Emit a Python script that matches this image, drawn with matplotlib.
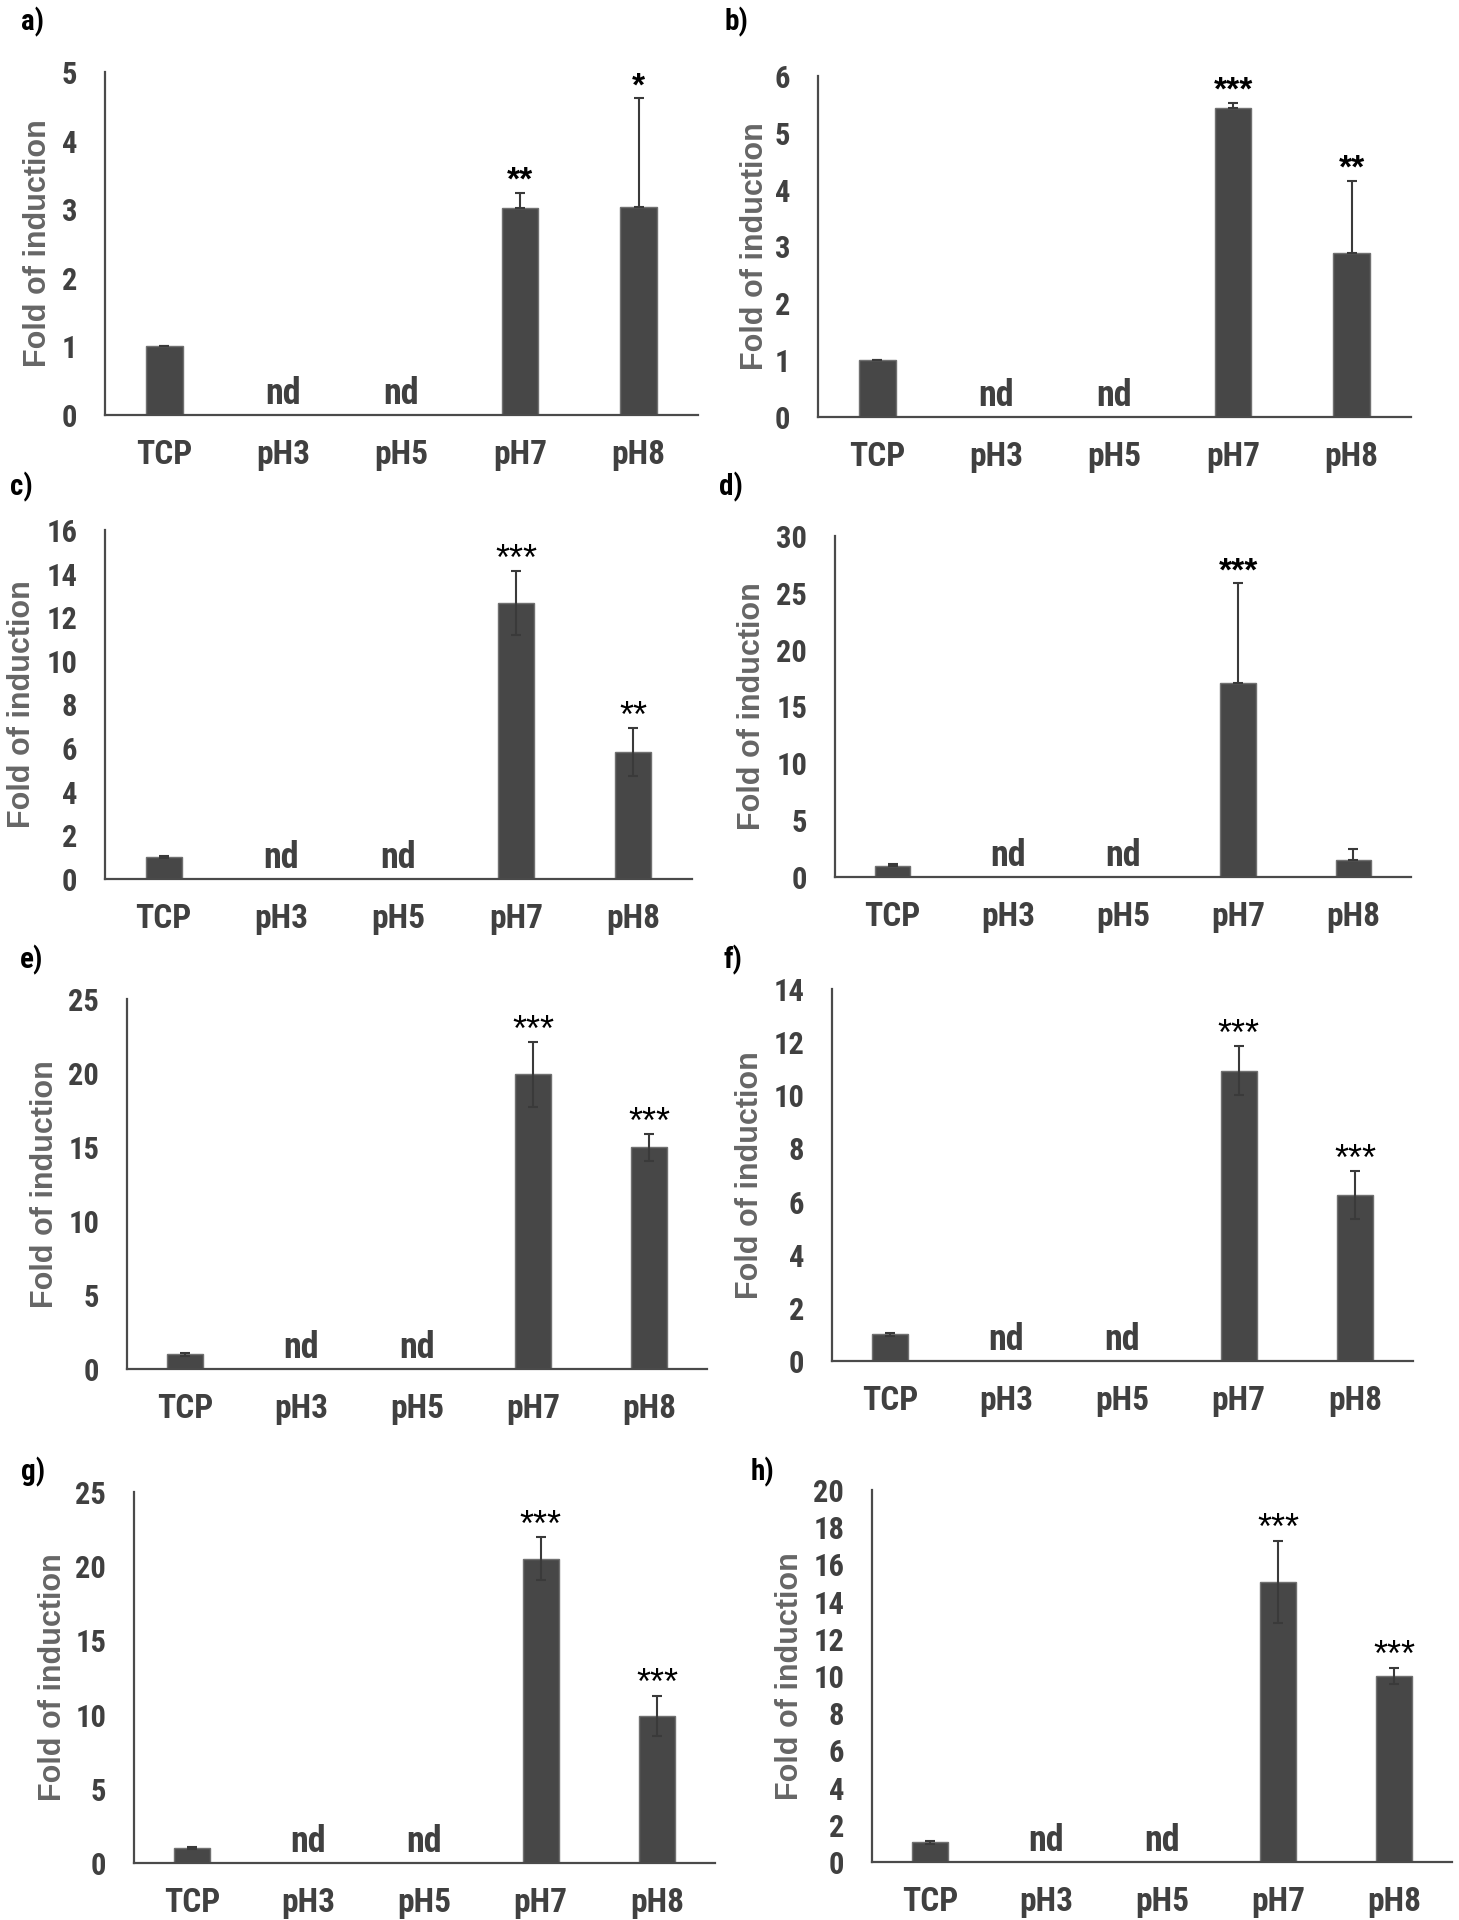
import matplotlib
matplotlib.use("Agg")
import matplotlib.pyplot as plt
from matplotlib.ticker import MultipleLocator
from matplotlib import font_manager
from matplotlib.font_manager import FontProperties

plt.rcParams['font.family'] = ['Liberation Sans', 'DejaVu Sans']

# look for a condensed bold sans face (Arial Narrow-like)
_cand = None
_prefs = ['LiberationSansNarrow-Bold', 'ArialNarrow', 'NimbusSansNarrow-Bold',
          'RobotoCondensed-Bold', 'OpenSansCondensed-Bold', 'OpenSans_Condensed-Bold',
          'DejaVuSansCondensed-Bold']
_files = [f.fname for f in font_manager.fontManager.ttflist]
for p in _prefs:
    for fn in _files:
        base = fn.split('/')[-1].replace(' ', '')
        if base.lower().startswith(p.lower()):
            _cand = fn
            break
    if _cand:
        break
if _cand is None:
    for f in font_manager.fontManager.ttflist:
        if f.stretch not in ('normal', 500) and f.weight in ('bold', 700):
            _cand = f.fname
            break

if _cand:
    def NP(size):
        return FontProperties(fname=_cand, size=size)
    NS = 1.0
else:
    def NP(size):
        return FontProperties(family=['Liberation Sans'], weight='bold', size=size)
    NS = 0.85

categories = ["TCP", "pH3", "pH5", "pH7", "pH8"]
nd_flags = [False, True, True, False, False]

vals_a = [1.0, 0, 0, 3.02, 3.03]
err_a = [0.01, 0, 0, 0.22, 1.59]
stars_a = ["", "", "", "**", "*"]

vals_b = [1.0, 0, 0, 5.43, 2.89]
err_b = [0.01, 0, 0, 0.10, 1.27]
stars_b = ["", "", "", "***", "**"]

vals_c = [1.0, 0, 0, 12.64, 5.82]
err_c = [0.05, 0, 0, 1.47, 1.10]
stars_c = ["", "", "", "***", "**"]

vals_d = [1.0, 0, 0, 17.07, 1.52]
err_d = [0.10, 0, 0, 8.80, 0.94]
stars_d = ["", "", "", "***", ""]

vals_e = [1.0, 0, 0, 19.90, 14.98]
err_e = [0.10, 0, 0, 2.20, 0.90]
stars_e = ["", "", "", "***", "***"]

vals_f = [1.0, 0, 0, 10.93, 6.24]
err_f = [0.05, 0, 0, 0.93, 0.90]
stars_f = ["", "", "", "***", "***"]

vals_g = [1.0, 0, 0, 20.50, 9.93]
err_g = [0.05, 0, 0, 1.45, 1.35]
stars_g = ["", "", "", "***", "***"]

vals_h = [1.05, 0, 0, 15.07, 10.00]
err_h = [0.06, 0, 0, 2.20, 0.45]
stars_h = ["", "", "", "***", "***"]

ymax = [5, 6, 16, 30, 25, 14, 25, 20]
ystep = [1, 1, 2, 5, 5, 2, 5, 2]
panel_letters = ["a)", "b)", "c)", "d)", "e)", "f)", "g)", "h)"]

W, H = 1459, 1920
fig = plt.figure(figsize=(W / 100, H / 100), dpi=100)

# axes boxes in pixels: x0, x1, ytop, ybot
boxes = [
    (105, 698, 72, 415),
    (818, 1411, 76, 417),
    (105, 692, 530, 879),
    (835, 1411, 536, 877),
    (127, 707, 999, 1369),
    (832, 1413, 989, 1361),
    (134, 715, 1492, 1863),
    (872, 1452, 1490, 1862),
]
ylabel_x = [38, 755, 22, 752, 45, 750, 53, 790]
letter_pos = [(21, 22), (725, 22), (10, 487), (719, 487),
              (20, 960), (724, 960), (21, 1472), (751, 1472)]
upper_only = [True, True, False, True, False, False, False, False]
bold_stars = [True, True, False, True, False, False, False, False]

data = [
    (vals_a, err_a, stars_a), (vals_b, err_b, stars_b),
    (vals_c, err_c, stars_c), (vals_d, err_d, stars_d),
    (vals_e, err_e, stars_e), (vals_f, err_f, stars_f),
    (vals_g, err_g, stars_g), (vals_h, err_h, stars_h),
]

tick_col = "#404040"
lab_col = "#666666"
bar_col = "#474747"

for k, ((vals, errs, stars), (x0, x1, yt, yb)) in enumerate(zip(data, boxes)):
    ax = fig.add_axes([x0 / W, 1 - yb / H, (x1 - x0) / W, (yb - yt) / H])
    xs = list(range(len(categories)))
    heights = [0 if nd else v for v, nd in zip(vals, nd_flags)]
    ax.bar(xs, heights, width=0.31, color=bar_col, edgecolor="#707070",
           linewidth=1.0, zorder=2)
    if upper_only[k]:
        yerr = [[0] * len(errs), errs]
    else:
        yerr = [errs, errs]
    ex = [x for x, nd in zip(xs, nd_flags) if not nd]
    ey = [h for h, nd in zip(heights, nd_flags) if not nd]
    ee = [[e for e, nd in zip(yerr[0], nd_flags) if not nd],
          [e for e, nd in zip(yerr[1], nd_flags) if not nd]]
    ax.errorbar(ex, ey, yerr=ee, fmt="none", ecolor="#3a3a3a",
                elinewidth=1.5, capsize=3.5, capthick=1.5, zorder=3)
    for i, nd in enumerate(nd_flags):
        if nd:
            ax.annotate("nd", xy=(i, 0), xytext=(0, 8), textcoords="offset points",
                        ha="center", va="baseline", color=tick_col,
                        fontproperties=NP(26 * NS))
    for i, s in enumerate(stars):
        if s:
            top = heights[i] + errs[i]
            if bold_stars[k]:
                ax.annotate(s, xy=(i, top), xytext=(0, 2), textcoords="offset points",
                            ha="center", va="baseline", fontsize=24,
                            fontweight="bold", color="black")
            else:
                ax.annotate(s, xy=(i, top), xytext=(0, 1), textcoords="offset points",
                            ha="center", va="baseline", fontsize=26,
                            color="black")
    ax.set_xlim(-0.5, len(categories) - 0.5)
    ax.set_ylim(0, ymax[k])
    ax.yaxis.set_major_locator(MultipleLocator(ystep[k]))
    ax.set_xticks(xs)
    ax.set_xticklabels(categories)
    for sp in ("top", "right"):
        ax.spines[sp].set_visible(False)
    for sp in ("left", "bottom"):
        ax.spines[sp].set_color("#4a4a4a")
        ax.spines[sp].set_linewidth(1.6)
    ax.tick_params(axis="y", length=0, pad=20, labelcolor=tick_col)
    ax.tick_params(axis="x", length=0, pad=17, labelcolor=tick_col)
    for lbl in ax.get_xticklabels():
        lbl.set_fontproperties(NP(24 * NS))
    for lbl in ax.get_yticklabels():
        lbl.set_fontproperties(NP(22 * NS))
    ax.set_ylabel("Fold of induction", fontsize=22, fontweight="bold", color=lab_col)
    ax.yaxis.label.set_va("center")
    ax.yaxis.set_label_coords((ylabel_x[k] - x0) / (x1 - x0), 0.5)
    lx, ly = letter_pos[k]
    fig.text(lx / W, 1 - ly / H, panel_letters[k], ha="left", va="center",
             color="black", fontproperties=NP(21 * NS))

fig.savefig("out.png", dpi=100, facecolor="white")
